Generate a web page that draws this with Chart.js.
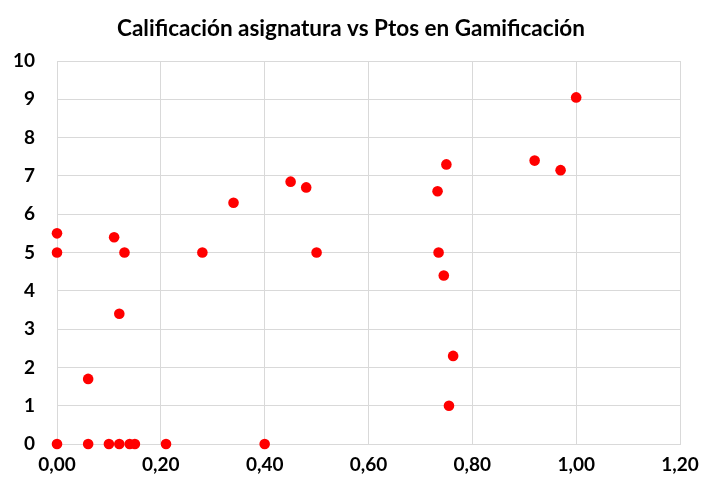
<!DOCTYPE html>
<html>
<head>
<meta charset="utf-8">
<script src="https://cdn.jsdelivr.net/npm/chart.js@4"></script>
<style>
  html, body { margin: 0; padding: 0; background: #fff; }
  #wrap { width: 702px; height: 482px; }
</style>
</head>
<body>
<div id="wrap"><canvas id="chart" width="702" height="482"></canvas></div>
<script>
// Ptos en Gamificación (x) and Calificación asignatura (y)
const ptosGamificacion = [0.00, 0.00, 0.00, 0.06, 0.06, 0.10, 0.11, 0.12, 0.12, 0.13, 0.14, 0.15, 0.21, 0.28, 0.34, 0.40,
    0.45, 0.48, 0.50, 0.75, 0.733, 0.735, 0.92, 0.97, 1.00, 0.745, 0.763, 0.755];
const calificacion = [5.5, 5.0, 0.0, 0.0, 1.7, 0.0, 5.4, 3.4, 0.0, 5.0, 0.0, 0.0, 0.0, 5.0, 6.3, 0.0,
    6.85, 6.7, 5.0, 7.3, 6.6, 5.0, 7.4, 7.15, 9.05, 4.4, 2.3, 1.0];
const xTicks = [0, 0.2, 0.4, 0.6, 0.8, 1.0, 1.2];

const points = ptosGamificacion.map((x, i) => ({ x: x, y: calificacion[i] }));
const gridGrey = '#d9d9d9';
const labelFont = { family: 'Lato', size: 19, weight: 'bold' };

new Chart(document.getElementById('chart').getContext('2d'), {
    type: 'scatter',
    data: {
        datasets: [{
            label: 'Calificación',
            data: points,
            backgroundColor: '#ff0000',
            borderWidth: 0,
            pointRadius: 5.3,
            pointHoverRadius: 5.3,
            clip: false
        }]
    },
    options: {
        responsive: false,
        animation: false,
        layout: { padding: 0 },
        plugins: {
            legend: { display: false },
            tooltip: { enabled: false },
            title: {
                display: true,
                text: 'Calificación asignatura vs Ptos en Gamificación',
                color: '#000',
                font: { family: 'Lato', size: 22.5, weight: 'bold' },
                padding: { top: 15, bottom: 19 }
            }
        },
        scales: {
            x: {
                type: 'linear',
                min: 0,
                max: 1.2,
                afterBuildTicks: s => { s.ticks = xTicks.map(v => ({ value: v })); },
                afterFit: s => { s.height = 38; s.paddingLeft = 0; s.paddingRight = 22; },
                grid: { color: gridGrey, drawTicks: false },
                border: { color: gridGrey },
                ticks: {
                    padding: 9,
                    color: '#000',
                    font: labelFont,
                    maxRotation: 0,
                    callback: v => v.toFixed(2).replace('.', ',')
                }
            },
            y: {
                min: 0,
                max: 10,
                afterFit: s => { s.width = 57; },
                grid: { color: gridGrey, drawTicks: false },
                border: { color: gridGrey },
                ticks: {
                    stepSize: 1,
                    padding: 22,
                    color: '#000',
                    font: labelFont
                }
            }
        }
    }
});
</script>
</body>
</html>
